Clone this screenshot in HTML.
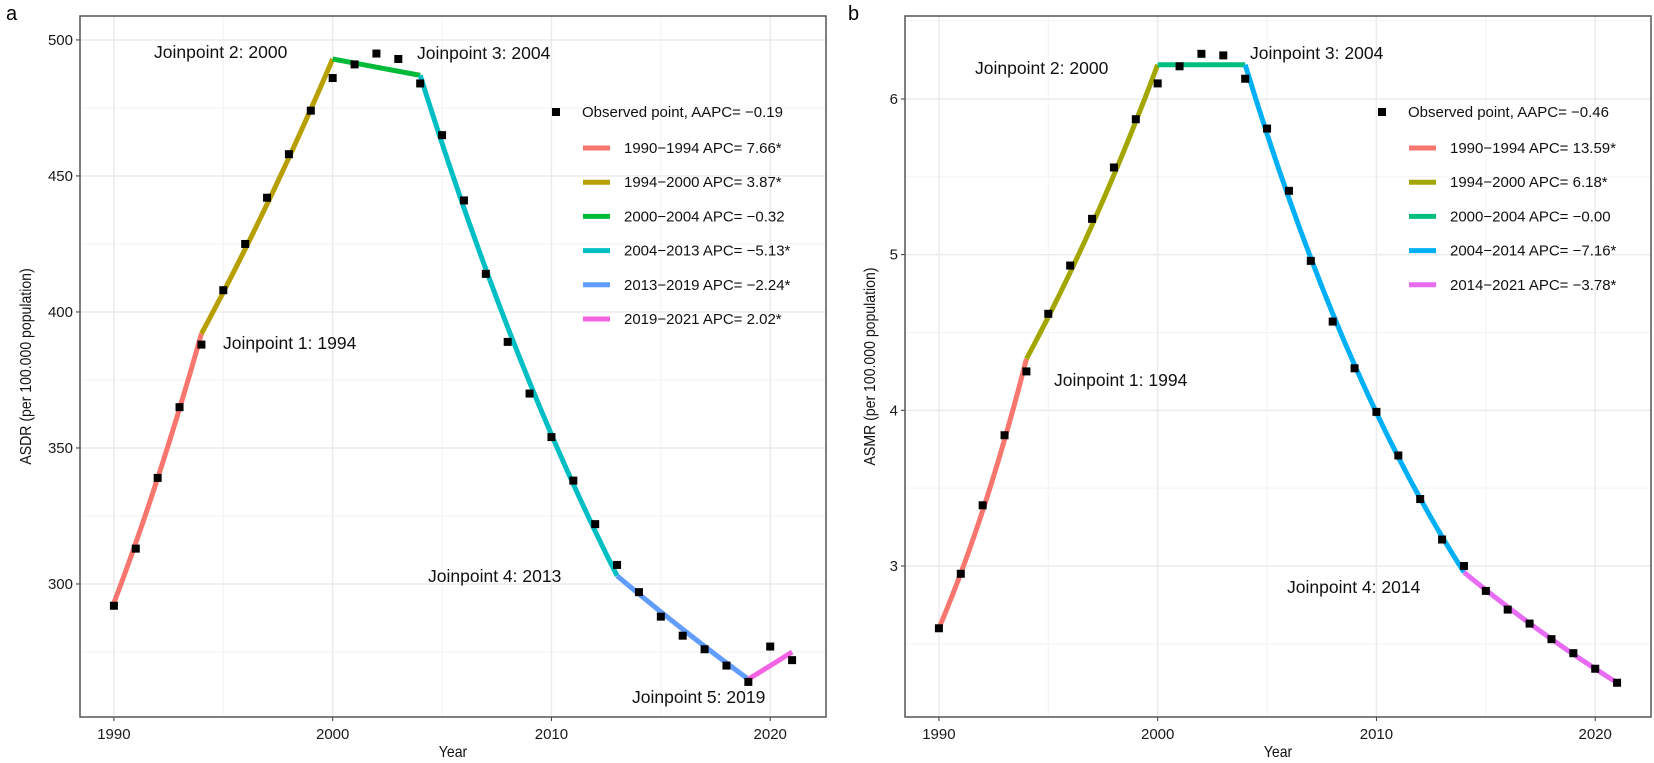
<!DOCTYPE html>
<html><head><meta charset="utf-8"><style>
html,body{margin:0;padding:0;background:#fff;}
svg{display:block;font-family:"Liberation Sans",Arial,sans-serif;}
</style></head><body>
<svg id="chart" width="1654" height="763" viewBox="0 0 1654 763" xmlns="http://www.w3.org/2000/svg"></svg>
<script>
// ---- Panel a data ----
const years = [1990,1991,1992,1993,1994,1995,1996,1997,1998,1999,2000,2001,2002,2003,2004,2005,2006,2007,2008,2009,2010,2011,2012,2013,2014,2015,2016,2017,2018,2019,2020,2021];
const asdrObserved = [292,313,339,365,388,408,425,442,458,474,486,491,495,493,484,465,441,414,389,370,354,338,322,307,297,288,281,276,270,264,277,272];
const asdrJoinYears = [1990,1994,2000,2004,2013,2019,2021];
const asdrJoinValues = [293,392,493,487,303,265,275];
const asdrLegend = ["1990\u22121994 APC= 7.66*","1994\u22122000 APC= 3.87*","2000\u22122004 APC= \u22120.32","2004\u22122013 APC= \u22125.13*","2013\u22122019 APC= \u22122.24*","2019\u22122021 APC= 2.02*"];
const asdrTicks = [300,350,400,450,500];
// ---- Panel b data ----
const asmrObserved = [2.60,2.95,3.39,3.84,4.25,4.62,4.93,5.23,5.56,5.87,6.10,6.21,6.29,6.28,6.13,5.81,5.41,4.96,4.57,4.27,3.99,3.71,3.43,3.17,3.00,2.84,2.72,2.63,2.53,2.44,2.34,2.25];
const asmrJoinYears = [1990,1994,2000,2004,2014,2021];
const asmrJoinValues = [2.60,4.33,6.22,6.22,2.96,2.25];
const asmrLegend = ["1990\u22121994 APC= 13.59*","1994\u22122000 APC= 6.18*","2000\u22122004 APC= \u22120.00","2004\u22122014 APC= \u22127.16*","2014\u22122021 APC= \u22123.78*"];
const asmrTicks = [3,4,5,6];
const xTicks = [1990,2000,2010,2020];

const NS="http://www.w3.org/2000/svg";
const svg=document.getElementById('chart');
function el(tag,attrs,parent,text){const e=document.createElementNS(NS,tag);for(const k in attrs)e.setAttribute(k,attrs[k]);if(text!==undefined)e.textContent=text;(parent||svg).appendChild(e);return e;}

function panel(cfg){
  const g=el('g',{});
  
  
  const L=cfg.left,R=cfg.right,T=16,B=717;
  const x0=1988.45,x1=2022.55;
  const X=v=>L+(v-x0)/(x1-x0)*(R-L);
  const Y=v=>B-(v-cfg.ymin)/(cfg.ymax-cfg.ymin)*(B-T);
  for(let yr=1995;yr<=2020;yr+=10){const l=el('line',{x1:X(yr),x2:X(yr),y1:T,y2:B,stroke:'#f3f3f3','stroke-width':1},g);}
  for(let i=0;i<cfg.ticks.length+1;i++){const v=cfg.ticks[0]+(i-0.5)*cfg.step;if(v>cfg.ymin&&v<cfg.ymax){const l=el('line',{x1:L,x2:R,y1:Y(v),y2:Y(v),stroke:'#f3f3f3','stroke-width':1},g);}}
  xTicks.forEach(t=>{
    const l=el('line',{x1:X(t),x2:X(t),y1:T,y2:B,stroke:'#ebebeb','stroke-width':1.5},g);
    
    el('line',{x1:X(t),x2:X(t),y1:B,y2:B+4,stroke:'#333','stroke-width':1},g);
    const tx=el('text',{x:X(t),y:B+22,'text-anchor':'middle','font-size':15,fill:'#1a1a1a'},g,String(t));
    
  });
  cfg.ticks.forEach(t=>{
    const l=el('line',{x1:L,x2:R,y1:Y(t),y2:Y(t),stroke:'#ebebeb','stroke-width':1.5},g);
    
    el('line',{x1:L-4,x2:L,y1:Y(t),y2:Y(t),stroke:'#333','stroke-width':1},g);
    const tx=el('text',{x:L-7,y:Y(t)+5,'text-anchor':'end','font-size':15,fill:'#1a1a1a'},g,String(t));
    
  });
  const border=el('rect',{x:L,y:T,width:R-L,height:B-T,fill:'none',stroke:'#555','stroke-width':1.5},g);
  
  // fitted segments (log-linear between joinpoints)
  for(let i=0;i<cfg.jy.length-1;i++){
    const ya=cfg.jy[i],yb=cfg.jy[i+1],va=cfg.jv[i],vb=cfg.jv[i+1];
    let pts=[];
    const n=20;
    for(let k=0;k<=n;k++){const f=k/n;const v=va*Math.pow(vb/va,f);pts.push(X(ya+(yb-ya)*f).toFixed(2)+','+Y(v).toFixed(2));}
    const s=el('polyline',{points:pts.join(' '),fill:'none',stroke:cfg.colors[i],'stroke-width':5},g);
    
  }
  years.forEach((yr,i)=>{
    const p=el('rect',{x:X(yr)-4,y:Y(cfg.obs[i])-4,width:8,height:8,fill:'#000'},g);
    
  });
  cfg.ann.forEach(a=>{
    const t=el('text',{x:a[1],y:a[2]+6,'font-size':17.5,fill:'#111'},g,a[0]);
    
  });
  const lg=el('g',{},g);
  
  const m=el('rect',{x:cfg.lgx-4,y:108,width:8,height:8,fill:'#000'},lg);
  
  const ot=el('text',{x:cfg.lgx+26,y:117,'font-size':15,fill:'#111'},lg,cfg.obsLabel);
  
  cfg.legend.forEach((lab,i)=>{
    const yy=148+i*34.2;
    const k=el('line',{x1:cfg.lgx+27,x2:cfg.lgx+54,y1:yy,y2:yy,stroke:cfg.colors[i],'stroke-width':5},lg);
    
    const t=el('text',{x:cfg.lgx+68,y:yy+5,'font-size':15,fill:'#111'},lg,lab);
    
  });
  const yt=el('text',{transform:`translate(${cfg.ytx},${(T+B)/2}) rotate(-90) scale(0.88,1)`,'text-anchor':'middle','font-size':16,fill:'#111'},g,cfg.ytitle);
  
  const xt=el('text',{transform:`translate(${(L+R)/2},757) scale(0.88,1)`,'text-anchor':'middle','font-size':16,fill:'#111'},g,'Year');
  
  const pl=el('text',{x:cfg.plx,y:20,'font-size':20,fill:'#000'},g,cfg.plabel);
  
}

panel({name:'panel-a-asdr',left:80,right:826,ymin:251.1,ymax:508.8,ticks:asdrTicks,step:50,
  obs:asdrObserved,jy:asdrJoinYears,jv:asdrJoinValues,legend:asdrLegend,
  colors:['#F8766D','#B79F00','#00BA38','#00BFC4','#619CFF','#F564E3'],
  ann:[['Joinpoint 2: 2000',154,52],['Joinpoint 3: 2004',417,53],['Joinpoint 1: 1994',223,343],['Joinpoint 4: 2013',428,576],['Joinpoint 5: 2019',632,697]],
  lgx:556,obsLabel:'Observed point, AAPC= \u22120.19',ytitle:'ASDR (per 100.000 population)',ytx:31,plx:6,plabel:'a'});
panel({name:'panel-b-asmr',left:905,right:1651,ymin:2.03,ymax:6.533,ticks:asmrTicks,step:1,
  obs:asmrObserved,jy:asmrJoinYears,jv:asmrJoinValues,legend:asmrLegend,
  colors:['#F8766D','#A3A500','#00BF7D','#00B0F6','#E76BF3'],
  ann:[['Joinpoint 2: 2000',975,68],['Joinpoint 3: 2004',1250,53],['Joinpoint 1: 1994',1054,380],['Joinpoint 4: 2014',1287,587]],
  lgx:1382,obsLabel:'Observed point, AAPC= \u22120.46',ytitle:'ASMR (per 100.000 population)',ytx:875,plx:848,plabel:'b'});
</script>
</body></html>
